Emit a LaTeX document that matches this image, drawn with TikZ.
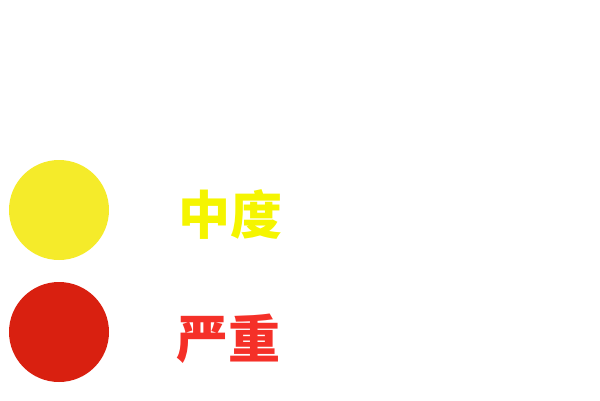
\documentclass[tikz,border=0pt]{standalone}
\usepackage{fontspec}
\newfontfamily\cjk{Noto Sans CJK SC}
\definecolor{cyel}{HTML}{F5EB2A}
\definecolor{cred}{HTML}{D92010}
\definecolor{tyel}{HTML}{F5F500}
\definecolor{tred}{HTML}{F53028}
\tikzset{dot/.style={circle,inner sep=0pt,minimum size=100pt},
lab/.style={inner sep=0pt,font=\cjk\bfseries\fontsize{52pt}{52pt}\selectfont}}
\begin{document}
\begin{tikzpicture}[x=1pt,y=-1pt]
\useasboundingbox (0,0) rectangle (600,400);
\node[dot,fill=cyel] (c1) at (59,210) {};
\node[dot,fill=cred] (c2) at (59,332) {};
\node[lab,text=tyel] (t1) at (230,214) {中度};
\node[lab,text=tred] (t2) at (228,338.5) {严重};
\end{tikzpicture}
\end{document}
